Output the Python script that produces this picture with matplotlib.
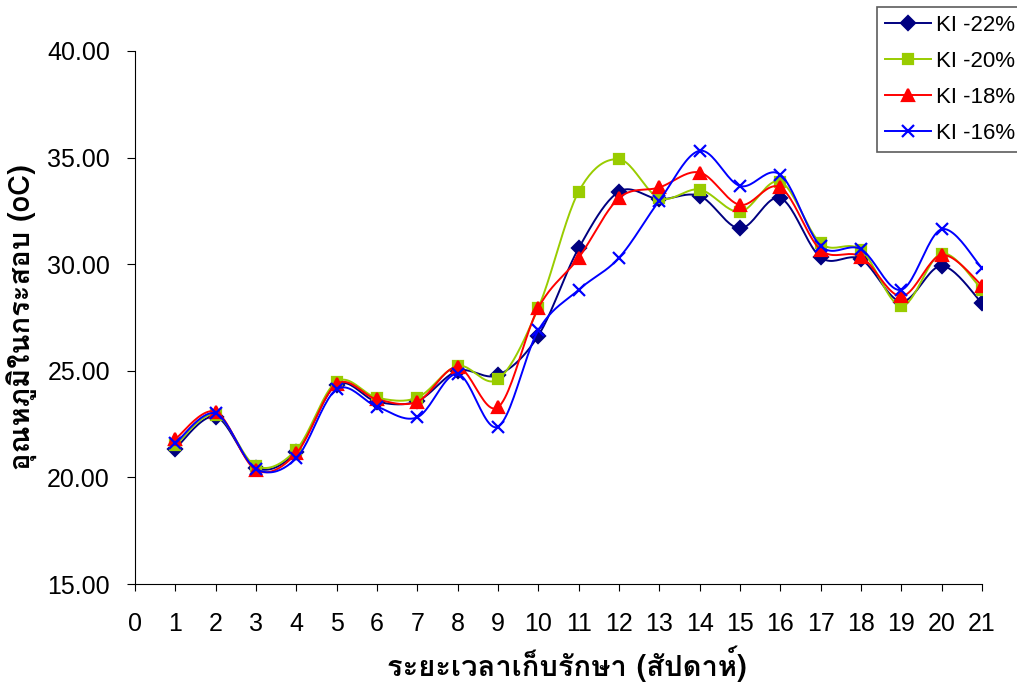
import numpy as np
import matplotlib
matplotlib.use("Agg")
import matplotlib.pyplot as plt
from matplotlib import font_manager
from matplotlib.ft2font import FT2Font
from matplotlib.lines import Line2D

# สัปดาห์ที่เก็บรักษา
weeks = list(range(1, 22))

ki_22 = [21.35, 22.85, 20.45, 21.2, 24.35, 23.55, 23.58, 25.0, 24.8, 26.65, 30.75,
         33.4, 33.05, 33.2, 31.68, 33.1, 30.32, 30.23, 28.25, 29.92, 28.17]
ki_20 = [21.5, 22.95, 20.53, 21.3, 24.49, 23.74, 23.74, 25.23, 24.6, 27.95, 33.4,
         34.92, 33.1, 33.5, 32.46, 33.87, 30.98, 30.67, 28.05, 30.5, 28.8]
ki_18 = [21.8, 23.08, 20.35, 21.13, 24.38, 23.66, 23.55, 25.17, 23.29, 27.95, 30.3,
         33.1, 33.6, 34.3, 32.78, 33.6, 30.67, 30.35, 28.5, 30.43, 29.0]
ki_16 = [21.6, 23.0, 20.4, 20.9, 24.13, 23.32, 22.82, 24.85, 22.38, 26.9, 28.8,
         30.3, 32.98, 35.32, 33.67, 34.2, 30.85, 30.7, 28.8, 31.64, 29.8]

labels = ["KI -22%", "KI -20%", "KI -18%", "KI -16%"]
colors = ["#000080", "#99CC00", "#FF0000", "#0000FF"]
markers = ["D", "s", "^", "x"]
msizes = [7, 7, 9, 9]


def thai_font():
    # หาฟอนต์ที่มีอักษรไทย
    for f in font_manager.fontManager.ttflist:
        try:
            if ord("ก") in FT2Font(f.fname).get_charmap():
                return f.name
        except Exception:
            pass
    return "DejaVu Sans"


def smooth(x, y, n=24):
    # เส้นโค้งแบบ Catmull-Rom (Bezier)
    pts = np.column_stack([x, y]).astype(float)
    P = np.vstack([pts[0], pts, pts[-1]])
    t = np.linspace(0, 1, n)[:, None]
    out = []
    for i in range(len(pts) - 1):
        p0, p1, p2, p3 = P[i], P[i + 1], P[i + 2], P[i + 3]
        c1 = p1 + (p2 - p0) / 6
        c2 = p2 - (p3 - p1) / 6
        seg = (1 - t) ** 3 * p1 + 3 * (1 - t) ** 2 * t * c1 + 3 * (1 - t) * t ** 2 * c2 + t ** 3 * p2
        out.append(seg if i == 0 else seg[1:])
    s = np.vstack(out)
    return s[:, 0], s[:, 1]


th = thai_font()
plt.rcParams["font.family"] = ["Liberation Sans", "DejaVu Sans"]

fig = plt.figure(figsize=(10.17, 6.87), dpi=100)
ax = fig.add_axes([0.1327, 0.1499, 0.8329, 0.7759])

for vals, c, m, ms in zip([ki_22, ki_20, ki_18, ki_16], colors, markers, msizes):
    sx, sy = smooth(weeks, vals)
    ax.plot(sx, sy, color=c, lw=1.4)
    ax.plot(weeks, vals, ls="none", marker=m, color=c, ms=ms, mew=1.6)

ax.set_xlim(0, 21)
ax.set_ylim(15, 40)
ax.set_xticks(range(0, 22))
ax.set_yticks(np.arange(15, 41, 5))
ax.yaxis.set_major_formatter(matplotlib.ticker.FormatStrFormatter("%.2f"))
ax.spines["top"].set_visible(False)
ax.spines["right"].set_visible(False)
ax.tick_params(axis="y", direction="out", length=6, pad=12, labelsize=18)
ax.tick_params(axis="x", direction="out", length=5, pad=15, labelsize=18)

ax.set_xlabel("ระยะเวลาเก็บรักษา (สัปดาห์)", family=[th, "DejaVu Sans"],
              fontsize=21, fontweight="bold", labelpad=8)
ax.set_ylabel("อุณหภูมิในกระสอบ (oC)", family=[th, "DejaVu Sans"],
              fontsize=21, fontweight="bold", labelpad=7)
ax.xaxis.set_label_coords((567 - 135) / 847, -0.115)

handles = [Line2D([], [], color=c, marker=m, ms=ms, mew=1.6, lw=1.4)
           for c, m, ms in zip(colors, markers, msizes)]
leg = fig.legend(handles, labels, loc="upper left", bbox_to_anchor=(877 / 1017, 1 - 7 / 687),
                 frameon=True, fancybox=False, edgecolor="#333333", fontsize=16,
                 handlelength=2.1, labelspacing=0.68, borderpad=0.35, handletextpad=0.2,
                 borderaxespad=0)
leg.get_frame().set_linewidth(1.2)

fig.savefig("out.png", dpi=100)
